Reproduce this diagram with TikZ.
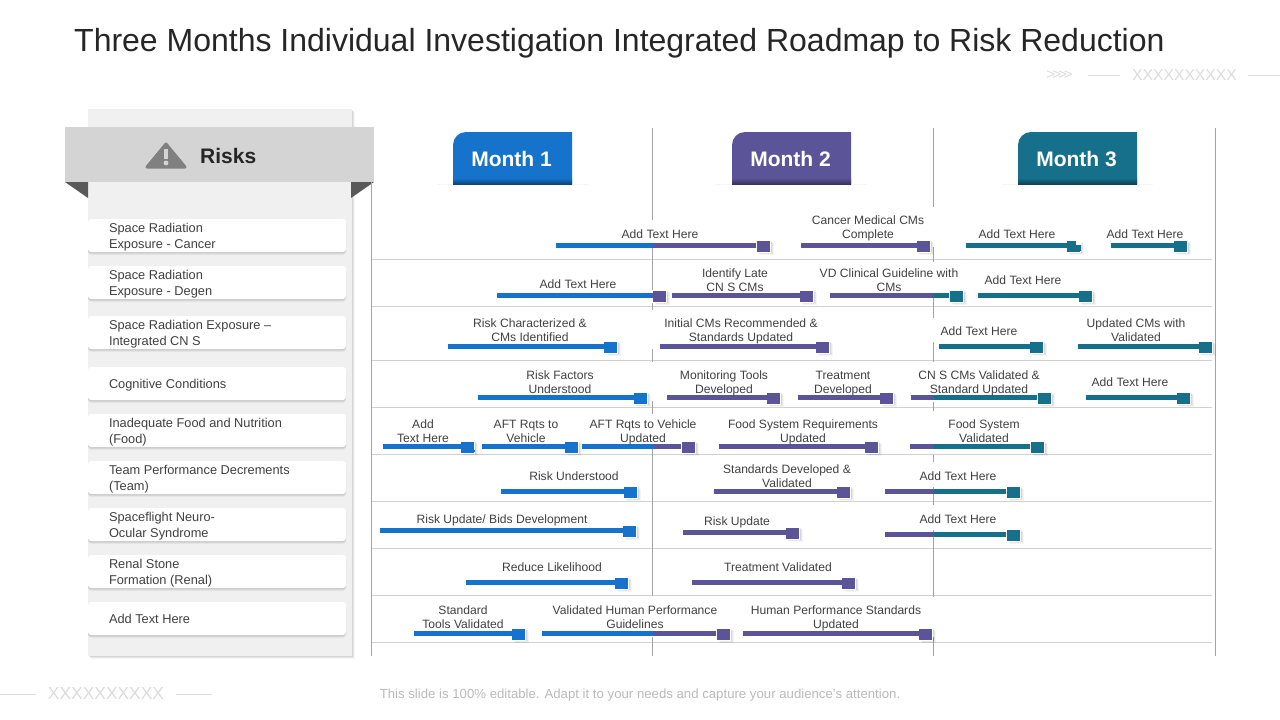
\documentclass[tikz,border=0pt]{standalone}
\usepackage{fontspec}
\setmainfont{Liberation Sans}
\usetikzlibrary{shadows}
\definecolor{mblue}{HTML}{1673CC}
\definecolor{mpurple}{HTML}{5B5499}
\definecolor{mteal}{HTML}{166F8B}
\definecolor{inktxt}{HTML}{404040}
\tikzset{
    softshadow/.style={
        general shadow={shadow xshift=#1*3pt, shadow yshift=-3pt, opacity=0.04, fill=black},
        general shadow={shadow xshift=#1*2pt, shadow yshift=-2pt, opacity=0.06, fill=black},
        general shadow={shadow xshift=#1*1pt, shadow yshift=-1pt, opacity=0.08, fill=black}},
    gridline/.style={draw=black!18, line width=0.7pt},
    monthline/.style={draw=black!36, line width=0.8pt},
    faintline/.style={draw=black!13, line width=0.7pt},
    barline/.style={line width=5pt},
    marker/.style={draw=white, line width=0.2pt, minimum width=14pt, minimum height=11.5pt, inner sep=0pt, softshadow=1},
    barlabel/.style={align=center, text=inktxt, inner sep=0pt, yshift=-2.2pt, font=\fontsize{12.1}{14}\selectfont},
    card/.style={fill=white, rounded corners=3pt, minimum width=258pt, minimum height=33pt, inner sep=0pt, softshadow=0},
    cardtext/.style={anchor=west, align=left, text=inktxt, inner sep=0pt, xshift=21pt, yshift=-1.6pt, font=\fontsize{12.8}{16}\selectfont},
    monthtext/.style={text=white, inner sep=0pt, font=\fontsize{21}{25}\bfseries\selectfont},
    faintx/.style={text=black!14, inner sep=0pt},
}
\begin{document}
\begin{tikzpicture}[x=1pt, y=-1pt]
    \useasboundingbox (0,0) rectangle (1280,720);
    \node[anchor=west, text=black!85, inner sep=0pt, font=\fontsize{32}{38}\selectfont] (title) at (74,43)
        {Three Months Individual Investigation Integrated Roadmap to Risk Reduction};

    \node[faintx, font=\fontsize{15}{18}\selectfont] (chevtop) at (1059.5,75) {>\kern-3pt>\kern-3pt>\kern-3pt>};
    \draw[faintline] (1088,75) -- (1120,75);
    \node[faintx, font=\fontsize{15.7}{18}\selectfont] (xtop) at (1184.5,75) {XXXXXXXXXX};
    \draw[faintline] (1248,75) -- (1280,75);
    \draw[faintline] (0,694) -- (36,694);
    \node[faintx, font=\fontsize{17.4}{20}\selectfont] (xbottom) at (106,694) {XXXXXXXXXX};
    \draw[faintline] (176,694) -- (212,694);
    \node[text=black!27, inner sep=0pt, font=\fontsize{13.2}{16}\selectfont] (footer) at (640,695)
        {This slide is 100\% editable. Adapt it to your needs and capture your audience's attention.};

    \path[fill=black!6, softshadow=1] (88,109) rectangle (352,656);
    \fill[black!65] (65,182) -- (88,182) -- (88,198) -- cycle;
    \fill[black!65] (351,182) -- (374,182) -- (351,198) -- cycle;
    \fill[black!17] (65,127) rectangle (374,182);
    \draw[fill=black!50, draw=black!50, line width=3pt, line join=round] (166,144) -- (185,167) -- (147,167) -- cycle;
    \draw[draw=black!17, line width=3.4pt] (166,149) -- (166,159);
    \fill[black!17] (166,163) circle (2.4);
    \node[anchor=west, text=black!85, inner sep=0pt, font=\fontsize{21}{25}\bfseries\selectfont] (risks) at (200,155.5) {Risks};

    \foreach \cy/\ctxt [count=\i] in {
        235.5/{Space Radiation\\Exposure - Cancer},
        282.5/{Space Radiation\\Exposure - Degen},
        332.5/{Space Radiation Exposure –\\Integrated CN S},
        383.5/{Cognitive Conditions},
        430.5/{Inadequate Food and Nutrition\\(Food)},
        477.5/{Team Performance Decrements\\(Team)},
        524.5/{Spaceflight Neuro-\\Ocular Syndrome},
        571.5/{Renal Stone\\Formation (Renal)},
        618.5/{Add Text Here}} {
        \node[card] (card\i) at (217,\cy) {};
        \node[cardtext] (cardtext\i) at (card\i.west) {\strut\ctxt\strut};
    }

    \foreach \ly in {259.5,306.5,360,407,454.5,501,548,595.5,642.5} {
        \draw[gridline] (372,\ly) -- (1212,\ly);
    }
    \draw[monthline] (371.5,182) -- (371.5,656);
    \draw[monthline] (1215.5,128) -- (1215.5,656);
    \foreach \lx/\la/\lb in {652.5/128/220, 652.5/248/290, 652.5/298/310, 652.5/349/362, 652.5/401/414, 652.5/449/596, 652.5/637/656,
        933.5/128/207, 933.5/247/262, 933.5/298/318, 933.5/342/362, 933.5/402/411, 933.5/455/462, 933.5/487/505, 933.5/530/597, 933.5/637/656} {
        \draw[monthline] (\lx,\la) -- (\lx,\lb);
    }

    \foreach \mx/\mcol/\mname in {453/mblue/Month 1, 732/mpurple/Month 2, 1018/mteal/Month 3} {
        \fill[black!4] (\mx-16,184) rectangle (\mx+135,184.8);
        \fill[color=\mcol] (\mx,184) [rounded corners=13pt] -- (\mx,132) [sharp corners] -- (\mx+119,132) -- (\mx+119,184) -- cycle;
        \shade[top color=\mcol, bottom color=\mcol!60!black] (\mx,178) rectangle (\mx+119,184);
        \node[monthtext] (month\mx) at (\mx+58.5,159) {\mname};
    }

    \foreach \by/\xa/\xs/\xb/\ca/\cb [count=\i] in {
        245.5/556/653/757/mblue/mpurple, 245.5/801/917/917/mpurple/mpurple, 245.5/966/1067/1067/mteal/mteal, 245.5/1111/1174/1174/mteal/mteal,
        295.5/497/653/653/mblue/mpurple, 295.5/672/800/800/mpurple/mpurple, 295.5/830/934/950/mpurple/mteal, 295.5/978/1079/1079/mteal/mteal,
        346.5/448/604/604/mblue/mblue, 346.5/660/816/816/mpurple/mpurple, 346.5/939/1030/1030/mteal/mteal, 346.5/1078/1199/1199/mteal/mteal,
        397.5/478/634/634/mblue/mblue, 397.5/667/767/767/mpurple/mpurple, 397.5/798/880/880/mpurple/mpurple, 397.5/911/934/1038/mpurple/mteal, 397.5/1086/1177/1177/mteal/mteal,
        446.5/383/461/461/mblue/mblue, 446.5/482/565/565/mblue/mblue, 446.5/582/653/682/mblue/mpurple, 446.5/719/865/865/mpurple/mpurple, 446.5/910/934/1031/mpurple/mteal,
        491.5/501/624/624/mblue/mblue, 491.5/714/837/837/mpurple/mpurple, 491.5/885/934/1007/mpurple/mteal,
        530.5/380/623/623/mblue/mblue, 532.5/683/786/786/mpurple/mpurple, 534.5/885/934/1007/mpurple/mteal,
        582.5/466/615/615/mblue/mblue, 582.5/692/842/842/mpurple/mpurple,
        633.5/414/512/512/mblue/mblue, 633.5/542/653/717/mblue/mpurple, 633.5/743/919/919/mpurple/mpurple} {
        \coordinate (start\i) at (\xa,\by);
        \coordinate (split\i) at (\xs,\by);
        \node[marker, fill=\cb] (mark\i) at (\xb+6.5,\by+0.5) {};
        \draw[barline, color=\ca] (start\i) -- (split\i);
        \draw[barline, color=\cb] (split\i) -- (mark\i.west |- split\i);
    }
    \fill[white] (1076,240) rectangle (1082,245.2);
    \fill[mteal] (1076,245.2) rectangle (1081,251);
    \fill[mblue] (473,450) rectangle (475,451.5);

    \foreach \tx/\ty/\ttxt [count=\i] in {
        660/233/{Add Text Here}, 868/226/{Cancer Medical CMs\\Complete}, 1017/233/{Add Text Here}, 1145/233/{Add Text Here},
        578/283/{Add Text Here}, 735/279/{Identify Late\\CN S CMs}, 889/279/{VD Clinical Guideline with\\CMs}, 1023/279/{Add Text Here},
        530/329/{Risk Characterized \&\\CMs Identified}, 741/329/{Initial CMs Recommended \&\\Standards Updated}, 979/330/{Add Text Here}, 1136/329/{Updated CMs with\\Validated},
        560/381/{Risk Factors\\Understood}, 724/381/{Monitoring Tools\\Developed}, 843/381/{Treatment\\Developed}, 979/381/{CN S CMs Validated \&\\Standard Updated}, 1130/381/{Add Text Here},
        423/430/{Add\\Text Here}, 526/430/{AFT Rqts to\\Vehicle}, 643/430/{AFT Rqts to Vehicle\\Updated}, 803/430/{Food System Requirements\\Updated}, 984/430/{Food System\\Validated},
        574/475/{Risk Understood}, 787/475/{Standards Developed \&\\Validated}, 958/475/{Add Text Here},
        502/518/{Risk Update/ Bids Development}, 737/520/{Risk Update}, 958/518/{Add Text Here},
        552/566/{Reduce Likelihood}, 778/566/{Treatment Validated},
        463/616/{Standard\\Tools Validated}, 635/616/{Validated Human Performance\\Guidelines}, 836/616/{Human Performance Standards\\Updated}} {
        \node[barlabel] (label\i) at (\tx,\ty) {\strut\ttxt\strut};
    }
\end{tikzpicture}
\end{document}
